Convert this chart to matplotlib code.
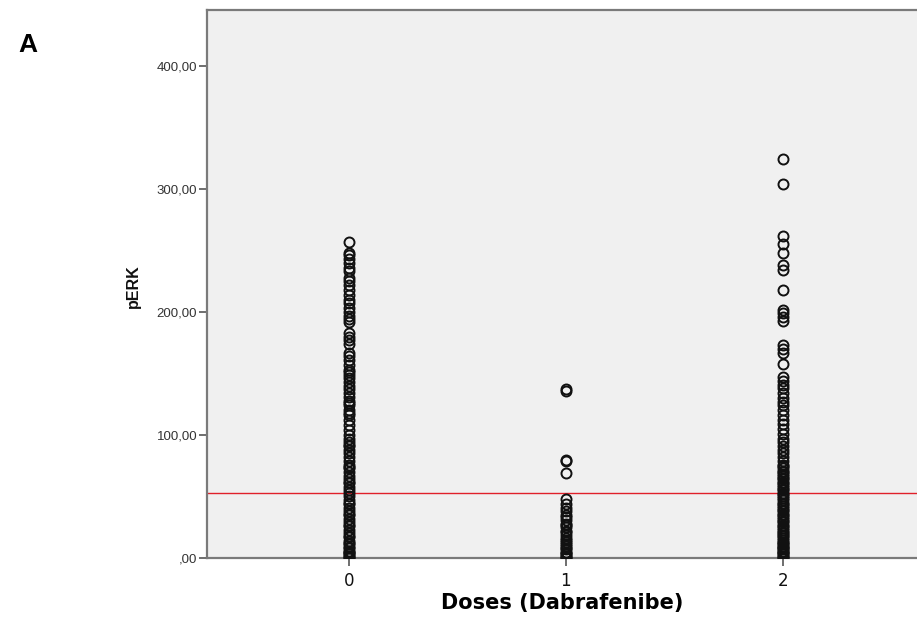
import matplotlib
matplotlib.use("Agg")
import matplotlib.pyplot as plt
from matplotlib.ticker import FixedLocator

# pERK measurements per Dabrafenib dose group
dose_0 = [257, 248, 246, 243, 240, 236, 233, 228, 225, 222, 218, 214, 210, 207, 203,
          200, 197, 194, 192, 183, 180, 177, 174, 167, 164, 161, 157, 153, 149, 146,
          143, 140, 137, 134, 131, 128, 124, 120, 116, 112, 108, 104, 100, 97, 94,
          91, 88, 85, 82, 79, 76, 73, 70, 67, 64, 61, 58, 55, 53, 50, 47, 44, 41,
          38, 35, 32, 29, 26, 23, 20, 17, 14, 11, 8, 6, 4, 2, 1, 0,
          151, 126, 118, 92, 74, 62, 45, 36, 27, 18, 12, 9, 5, 3]
dose_1 = [137, 136, 80, 79, 69, 48, 44, 41, 38, 35, 31, 28, 25, 22, 19, 16, 13, 10,
          8, 5, 3, 1, 0, 33, 27, 21, 15, 11, 7, 4, 2]
dose_2 = [324, 304, 262, 255, 248, 238, 234, 218, 202, 199, 196, 193, 173, 170, 167,
          158, 147, 144, 141, 138, 134, 130, 127, 124, 120, 116, 112, 109, 105, 101,
          97, 94, 91, 88, 85, 82, 79, 76, 73, 70, 67, 64, 61, 58, 55, 52, 50, 47, 44,
          41, 38, 35, 32, 29, 26, 23, 20, 18, 15, 12, 10, 8, 6, 4, 2, 1, 0,
          75, 71, 68, 65, 62, 59, 56, 53, 49, 45, 42, 39, 36, 33, 30, 27, 24, 21,
          19, 16, 13, 11, 9, 7, 5, 3]
groups = [dose_0, dose_1, dose_2]
dose_labels = ["0", "1", "2"]
reference_level = 52.8
y_ticks = [0, 100, 200, 300, 400]
y_tick_labels = [",00", "100,00", "200,00", "300,00", "400,00"]

W, H = 917, 625
fig = plt.figure(figsize=(W / 100, H / 100), dpi=100)
ax = fig.add_axes([207 / W, 67 / H, (W - 207) / W, 548 / H])
ax.set_facecolor("#f0f0f0")

for dose, values in enumerate(groups):
    ax.plot([dose] * len(values), values, linestyle="none", marker="o",
            markersize=7.2, markerfacecolor="none", markeredgecolor="#111111",
            markeredgewidth=1.4, zorder=3)

ax.axhline(reference_level, color="#e0202a", linewidth=1.0, zorder=2)

ax.set_xlim(-0.654, 2.618)
ax.set_ylim(0, 445.5)

ax.xaxis.set_major_locator(FixedLocator([0, 1, 2]))
ax.set_xticklabels(dose_labels, family=["Liberation Sans Narrow", "DejaVu Sans"],
                   fontsize=12, color="#111111")
ax.yaxis.set_major_locator(FixedLocator(y_ticks))
ax.set_yticklabels(y_tick_labels, family=["Liberation Sans", "DejaVu Sans"],
                   fontsize=9.5, color="#333333")
ax.tick_params(axis="both", length=6, width=1.2, color="#555555", direction="out")
ax.tick_params(axis="x", pad=4)
ax.tick_params(axis="y", pad=1)

for side in ["left", "top", "bottom"]:
    ax.spines[side].set_color("#7a7a7a")
    ax.spines[side].set_linewidth(1.6)
ax.spines["right"].set_visible(False)

ax.set_xlabel("Doses (Dabrafenibe)", family=["Liberation Sans Narrow", "DejaVu Sans"],
              fontsize=15, fontweight="bold", labelpad=2)
fig.text(133 / W, 1 - 286 / H, "pERK", rotation=90, ha="center", va="center",
         family=["Liberation Sans", "DejaVu Sans"], fontsize=11.5, fontweight="bold",
         color="#111111")
fig.text(18 / W, 1 - 45 / H, "A", ha="left", va="center",
         family=["Liberation Sans", "DejaVu Sans"], fontsize=19, fontweight="bold")

fig.savefig("out.png", dpi=100, facecolor="white")
